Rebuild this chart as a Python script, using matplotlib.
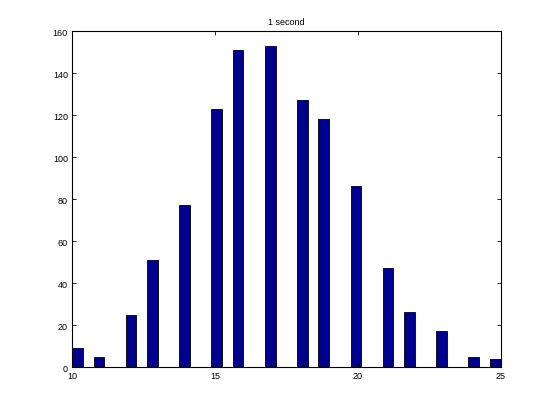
import matplotlib
matplotlib.use("Agg")
import matplotlib.pyplot as plt

# histogram bins (40 bins over 10..25, only non-empty ones)
centers = [10.19, 10.94, 12.06, 12.81, 13.94, 15.06, 15.81, 16.94,
           18.06, 18.81, 19.94, 21.06, 21.81, 22.94, 24.06, 24.81]
counts = [9, 5, 25, 51, 77, 123, 151, 153, 127, 118, 86, 47, 26, 17, 5, 4]
xticks = [10, 15, 20, 25]
yticks = [0, 20, 40, 60, 80, 100, 120, 140, 160]

plt.rcParams["font.family"] = ["Liberation Sans", "DejaVu Sans"]

fig = plt.figure(figsize=(5.53, 4.14), dpi=100)
ax = fig.add_axes([0.1302, 0.1111, 0.775, 0.8116])
ax.bar(centers, counts, width=0.375, color="#00008F", edgecolor="black", linewidth=0.6)
ax.set_xlim(10, 25)
ax.set_ylim(0, 160)
ax.set_xticks(xticks)
ax.set_yticks(yticks)
ax.tick_params(direction="in", length=3, width=0.6, labelsize=6.5, pad=3,
               top=True, right=True)
for s in ax.spines.values():
    s.set_linewidth(0.8)
ax.set_title("1 second", fontsize=6.5, pad=5)
fig.savefig("out.png", dpi=100)
